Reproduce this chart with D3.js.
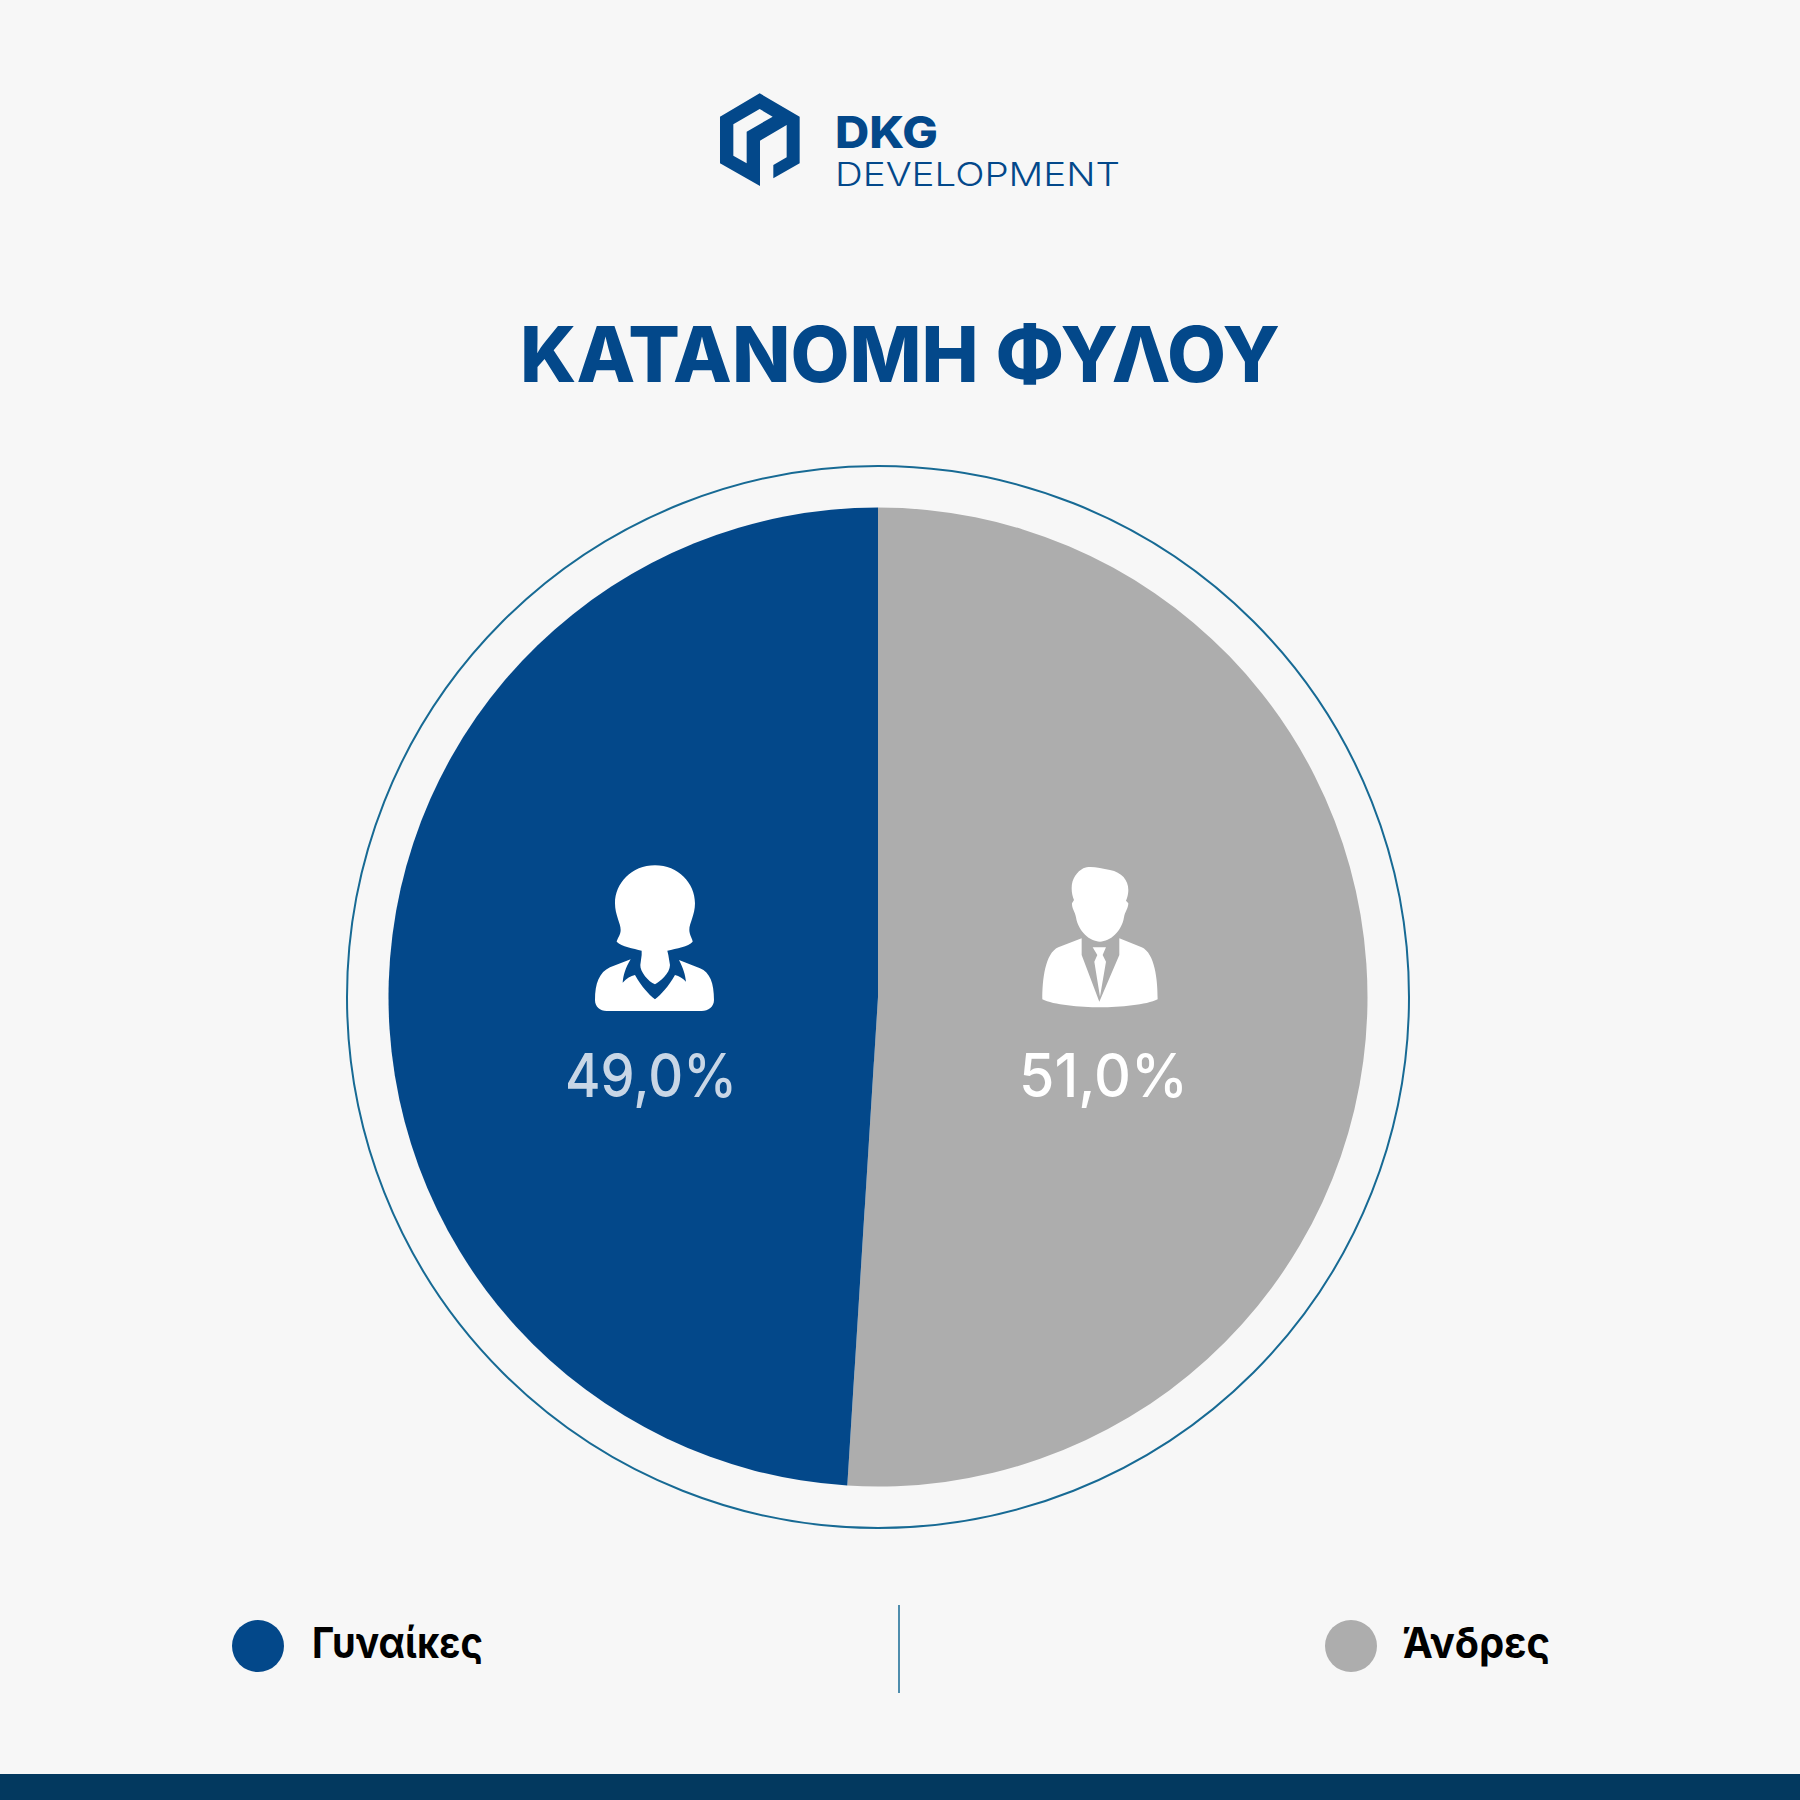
<!DOCTYPE html>
<html><head><meta charset="utf-8">
<script src="https://cdn.jsdelivr.net/npm/d3@7/dist/d3.min.js"></script>
<style>html,body{margin:0;padding:0;background:#f7f7f7}svg{display:block}</style>
</head><body><svg id="c" width="1800" height="1800"></svg>
<script>
const categories = ["Άνδρες", "Γυναίκες"];
const values = [51.0, 49.0];
const sliceColors = ["#adadad", "#03488a"];
const valueColors = ["#ffffff", "#c8d6e6"];
const title = "ΚΑΤΑΝΟΜΗ ΦΥΛΟΥ";

const svg = d3.select("#c");
const BLUE = "#03488a", W = 1800, H = 1800;
svg.append("rect").attr("width",W).attr("height",H).attr("fill","#f7f7f7");
svg.append("rect").attr("y",1774).attr("width",W).attr("height",26).attr("fill","#03395f");

// logo
const logo = svg.append("g").attr("transform","translate(700,70) scale(0.3333)");
logo.append("path").attr("fill",BLUE).attr("fill-rule","evenodd")
  .attr("d","M179 70L299 140L299 280L220 325L220 285L260 262L260 165L180 212L180 348L60 280L60 140Z M179 117L218 140L140 185L140 280L100 257L100 163Z");
svg.append("text").text("DKG").attr("x",835).attr("y",148).attr("textLength",103).attr("lengthAdjust","spacingAndGlyphs")
  .attr("font-family","Inter").attr("font-weight",800).attr("font-size",44).attr("fill",BLUE);
svg.append("text").text("DEVELOPMENT").attr("x",835).attr("y",186).attr("textLength",285).attr("lengthAdjust","spacingAndGlyphs")
  .attr("font-family","Inter").attr("font-weight",300).attr("font-size",33).attr("fill",BLUE);

// title
svg.append("text").text(title).attr("x",520).attr("y",382).attr("textLength",760).attr("lengthAdjust","spacingAndGlyphs")
  .attr("font-family","Inter").attr("font-weight",800).attr("font-size",77).attr("fill",BLUE);

// pie
const cx = 878, cy = 997, R = 489.5, ringR = 531;
const pie = d3.pie().sort(null).value(d=>d)(values);
const arc = d3.arc().innerRadius(0).outerRadius(R);
const g = svg.append("g").attr("transform",`translate(${cx},${cy})`);
g.append("circle").attr("r",ringR).attr("fill","none").attr("stroke","#176a94").attr("stroke-width",2);
g.selectAll("path.s").data(pie).join("path").attr("class","s").attr("d",arc).attr("fill",(d,i)=>sliceColors[i]);

// value labels
const fmt = v => v.toFixed(1).replace(".",",") + "%";
const labelX = [1019, 565], labelLen = [169, 172];
svg.selectAll("text.v").data(values).join("text").attr("class","v")
  .text(fmt).attr("x",(d,i)=>labelX[i]).attr("y",1097).attr("textLength",(d,i)=>labelLen[i]).attr("lengthAdjust","spacingAndGlyphs")
  .attr("font-family","Inter").attr("font-weight",500).attr("font-size",60).attr("fill",(d,i)=>valueColors[i]);

// icons (pictograms)
const woman = svg.append("g").attr("transform","translate(560,840) scale(0.3333)").attr("fill","#fff");
woman.append("path").attr("d","M285 76C355 76 405 130 405 190C405 225 388 250 388 270C388 285 398 298 398 305C385 320 350 325 322 332L325 345L330 375C330 400 300 425 285 433C265 425 240 395 241 375L245 345L245 332C220 325 185 320 170 305C172 295 182 285 182 270C182 250 165 225 165 190C165 130 215 76 285 76Z");
woman.append("path").attr("d","M212 358C196 385 190 405 188 428C200 415 212 408 225 405C245 440 265 462 285 478C305 462 325 440 345 405C358 408 368 415 378 425C376 405 370 385 357 360L420 385C450 397 462 430 462 480C462 500 445 513 425 513L140 513C120 513 105 500 105 480C105 430 118 397 150 382Z");
const man = svg.append("g").attr("transform","translate(1000,840) scale(0.3333)").attr("fill","#fff");
man.append("path").attr("d","M250 85C270 75 300 85 330 90C365 97 385 120 385 150C385 165 380 178 378 182L385 190C385 205 375 215 372 232C365 275 330 305 300 305C270 305 235 275 228 232C225 215 215 205 216 190L222 180C218 170 215 160 215 145C215 115 232 95 250 85Z");
man.append("path").attr("d","M245 295L245 345L298 485L358 345L358 295L425 322C465 340 473 420 473 478C440 495 360 502 300 502C240 502 160 495 127 478C127 420 135 340 175 322Z");
man.append("path").attr("d","M278 322L318 322L308 345L318 365L300 470L283 365L292 345Z");

// legend
const legendCx = [1351, 258], legendTx = [1403, 312], legendLen = [147, 171];
svg.selectAll("circle.l").data(categories).join("circle").attr("class","l")
  .attr("cx",(d,i)=>legendCx[i]).attr("cy",1646).attr("r",26).attr("fill",(d,i)=>sliceColors[i]);
svg.selectAll("text.l").data(categories).join("text").attr("class","l").text(d=>d)
  .attr("x",(d,i)=>legendTx[i]).attr("y",1658).attr("textLength",(d,i)=>legendLen[i]).attr("lengthAdjust","spacingAndGlyphs")
  .attr("font-family","Inter").attr("font-weight",700).attr("font-size",43).attr("fill","#000");
svg.append("line").attr("x1",899).attr("x2",899).attr("y1",1605).attr("y2",1693).attr("stroke","#176a94").attr("stroke-width",1.5);
</script></body></html>
